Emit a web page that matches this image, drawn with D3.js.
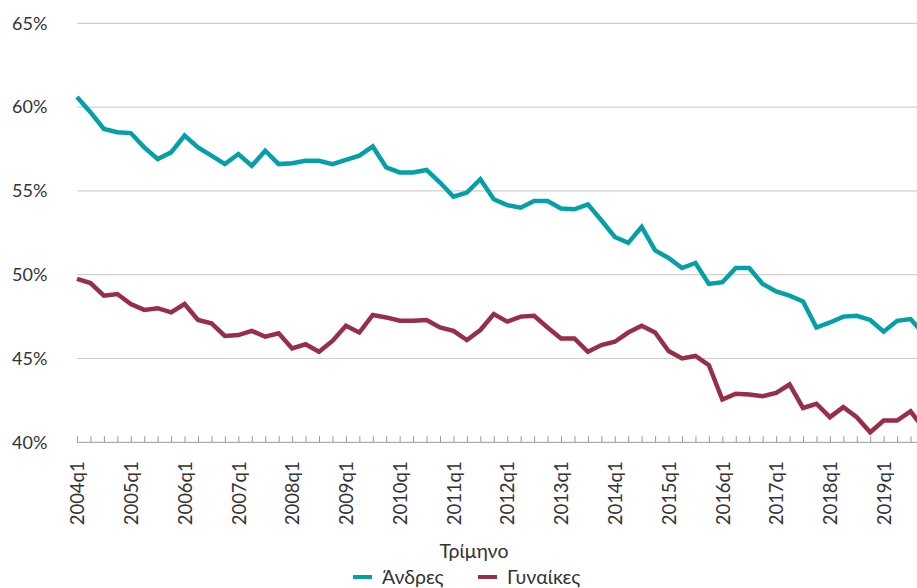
<!DOCTYPE html>
<html>
<head>
<meta charset="utf-8">
<script src="https://cdn.jsdelivr.net/npm/d3@7"></script>
<style>
  body { margin: 0; background: #fff; }
  svg text { font-family: Lato, "Noto Sans", sans-serif; fill: #333; }
</style>
</head>
<body>
<script>
// chart size
var width = 917;
var height = 588;

// quarters 2004q1 .. 2019q4
var years = d3.range(2004, 2020);
var quarters = [];
years.forEach(function(y) {
  [1, 2, 3, 4].forEach(function(q) { quarters.push(y + "q" + q); });
});

// employment rate, men
var men = [60.6, 59.7, 58.7, 58.5, 58.45, 57.6, 56.9, 57.3, 58.3, 57.6, 57.1, 56.6, 57.2, 56.5, 57.4, 56.6,
  56.65, 56.8, 56.8, 56.6, 56.85, 57.1, 57.65, 56.4, 56.1, 56.1, 56.25, 55.5, 54.65, 54.9, 55.7, 54.5,
  54.15, 54.0, 54.4, 54.4, 53.95, 53.9, 54.2, 53.25, 52.25, 51.9, 52.85, 51.45, 51.0, 50.4, 50.7, 49.45,
  49.55, 50.4, 50.4, 49.45, 49.0, 48.75, 48.4, 46.85, 47.15, 47.5, 47.55, 47.3, 46.6, 47.25, 47.35, 46.45];

// employment rate, women
var women = [49.75, 49.5, 48.75, 48.85, 48.25, 47.9, 48.0, 47.75, 48.25, 47.3, 47.1, 46.35, 46.4, 46.65, 46.3, 46.5,
  45.6, 45.85, 45.4, 46.05, 46.95, 46.55, 47.6, 47.45, 47.25, 47.25, 47.3, 46.85, 46.65, 46.1, 46.7, 47.65,
  47.2, 47.5, 47.55, 46.85, 46.2, 46.2, 45.4, 45.8, 46.0, 46.55, 46.95, 46.55, 45.45, 45.0, 45.15, 44.6,
  42.55, 42.9, 42.85, 42.75, 42.95, 43.45, 42.05, 42.3, 41.5, 42.1, 41.5, 40.6, 41.3, 41.3, 41.85, 40.8];

var yTicks = [40, 45, 50, 55, 60, 65];
var seriesNames = ["Άνδρες", "Γυναίκες"];
var colors = ["#05a0a7", "#962f47"];

var svg = d3.select("body").append("svg")
  .attr("width", width)
  .attr("height", height);

var x = d3.scalePoint()
  .domain(quarters)
  .range([77, 924]);

var y = d3.scaleLinear()
  .domain([40, 65])
  .range([442.3, 23.3]);

// gridlines
svg.append("g")
  .selectAll("line")
  .data(yTicks.slice(1))
  .enter()
  .append("line")
  .attr("x1", 77)
  .attr("x2", width)
  .attr("y1", function(d) { return y(d); })
  .attr("y2", function(d) { return y(d); })
  .style("stroke", "#d3cfcb")
  .style("stroke-width", 1.2);

// y labels
svg.append("g")
  .selectAll("text")
  .data(yTicks)
  .enter()
  .append("text")
  .attr("x", 12)
  .attr("y", function(d) { return y(d); })
  .attr("dy", "0.35em")
  .style("font-size", "18px")
  .text(function(d) { return d + "%"; });

// x axis with a tick at every quarter, pointing up
var xAxis = d3.axisBottom(x)
  .tickSizeInner(-6)
  .tickSizeOuter(0)
  .tickFormat(function(d, i) { return i % 4 === 0 ? d : ""; });

var gx = svg.append("g")
  .attr("transform", "translate(0," + y(40) + ")")
  .call(xAxis);

gx.select(".domain").remove();
gx.append("line")
  .attr("x1", 77)
  .attr("x2", width)
  .style("stroke", "#999")
  .style("stroke-width", 1);
gx.selectAll(".tick line").style("stroke", "#999");
gx.selectAll(".tick text")
  .attr("transform", "rotate(-90)")
  .attr("text-anchor", "end")
  .attr("x", -19)
  .attr("y", 0)
  .attr("dy", "0.36em")
  .style("font-size", "18.5px")
  .style("fill", "#333")
  .style("font-family", "Lato, 'Noto Sans', sans-serif");

// lines
var line = d3.line()
  .x(function(d, i) { return x(quarters[i]); })
  .y(function(d) { return y(d); });

[men, women].forEach(function(values, k) {
  svg.append("path")
    .datum(values)
    .attr("d", line)
    .style("fill", "none")
    .style("stroke", colors[k])
    .style("stroke-width", 4.5)
    .style("stroke-linejoin", "miter");
});

// axis title
svg.append("text")
  .attr("x", 474)
  .attr("y", 558)
  .attr("text-anchor", "middle")
  .style("font-size", "19.5px")
  .text("Τρίμηνο");

// legend
var legendX = [353, 478];
seriesNames.forEach(function(name, k) {
  svg.append("line")
    .attr("x1", legendX[k])
    .attr("x2", legendX[k] + 19)
    .attr("y1", 577)
    .attr("y2", 577)
    .style("stroke", colors[k])
    .style("stroke-width", 4);
  svg.append("text")
    .attr("x", legendX[k] + 29)
    .attr("y", 584)
    .style("font-size", "19.5px")
    .text(name);
});
</script>
</body>
</html>
